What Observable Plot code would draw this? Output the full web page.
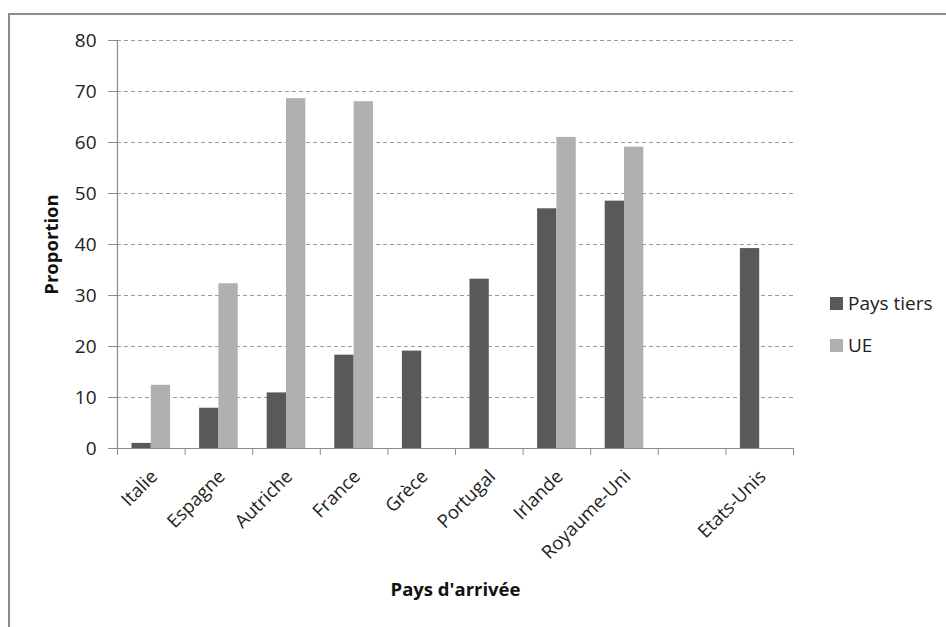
<!DOCTYPE html>
<html>
<head>
<meta charset="utf-8">
<script src="https://cdn.jsdelivr.net/npm/d3@7"></script>
<script src="https://cdn.jsdelivr.net/npm/@observablehq/plot@0.6"></script>
<style>
  html, body { margin: 0; padding: 0; background: #fff; overflow: hidden; }
  #wrap { position: relative; width: 946px; height: 627px; font-family: "Open Sans", sans-serif; }
  #frame { position: absolute; left: 8px; top: 13px; width: 1000px; height: 1000px; border: 2px solid #8c8c8c; box-sizing: border-box; }
  #chart { position: absolute; left: 0; top: 0; }
  .legend { position: absolute; left: 830px; font-size: 19px; color: #222; display: flex; align-items: center; white-space: nowrap; }
  .legend span.sw { display: inline-block; width: 13px; height: 13px; margin-right: 5px; }
</style>
</head>
<body>
<div id="wrap">
  <div id="frame"></div>
  <div id="chart"></div>
  <div class="legend" style="top:290px"><span class="sw" style="background:#595959"></span>Pays tiers</div>
  <div class="legend" style="top:332px"><span class="sw" style="background:#b0b0b0"></span>UE</div>
</div>
<script>
const categories = ["Italie", "Espagne", "Autriche", "France", "Grèce", "Portugal", "Irlande", "Royaume-Uni", "", "Etats-Unis"];
const paysTiers = [1.0, 7.9, 10.9, 18.3, 19.1, 33.2, 47.0, 48.5, null, 39.2];
const ue = [12.4, 32.3, 68.6, 68.0, null, null, 61.0, 59.1, null, null];
const yTicks = [0, 10, 20, 30, 40, 50, 60, 70, 80];

const darkColor = "#595959";
const lightColor = "#b0b0b0";
const gridColor = "#9a9a9a";
const axisColor = "#8c8c8c";
// bar layout within one category slot (fractions of the slot)
const barStart = 0.2143, barMid = 0.5, barEnd = 0.7857;

const idx = d3.range(categories.length);
const darkIdx = idx.filter(i => paysTiers[i] != null);
const lightIdx = idx.filter(i => ue[i] != null);

const chart = Plot.plot({
  width: 946,
  height: 627,
  marginLeft: 117,
  marginRight: 153,
  marginTop: 40,
  marginBottom: 179,
  style: { fontFamily: "Open Sans, sans-serif", fontSize: "16px", color: "#333", background: "transparent" },
  x: { type: "linear", domain: [0, categories.length], axis: null },
  y: { domain: [0, 80], axis: null },
  marks: [
    Plot.gridY(yTicks.slice(1), { stroke: gridColor, strokeOpacity: 1, strokeDasharray: "4,3", strokeWidth: 1 }),
    Plot.rectY(darkIdx, { x1: i => i + barStart, x2: i => i + barMid, y1: 0, y2: i => paysTiers[i], fill: darkColor }),
    Plot.rectY(lightIdx, { x1: i => i + barMid, x2: i => i + barEnd, y1: 0, y2: i => ue[i], fill: lightColor }),
    Plot.ruleX([0], { y1: 0, y2: 80, stroke: axisColor, strokeWidth: 1.2 }),
    Plot.ruleY([0], { stroke: axisColor, strokeWidth: 1.2 }),
    Plot.axisY(yTicks, { tickSize: 9, tickPadding: 12, stroke: axisColor, fill: "#222", fontSize: 19, label: null }),
    Plot.axisX(d3.range(categories.length + 1), { tickSize: 7, tickFormat: () => "", stroke: axisColor, label: null }),
    Plot.text(idx, {
      x: i => i + 0.5, y: () => 0, text: i => categories[i],
      rotate: -45, textAnchor: "end", lineAnchor: "middle",
      dx: 3, dy: 25, fontSize: 18.5, fill: "#222"
    }),
    Plot.text(["Proportion"], { frameAnchor: "left", textAnchor: "middle", dx: -65, rotate: -90, fontWeight: "bold", fontSize: 18.5, fill: "#111" }),
    Plot.text(["Pays d'arrivée"], { frameAnchor: "bottom", dy: 147, fontWeight: "bold", fontSize: 18.5, fill: "#111" })
  ]
});
document.getElementById("chart").appendChild(chart);
</script>
</body>
</html>
